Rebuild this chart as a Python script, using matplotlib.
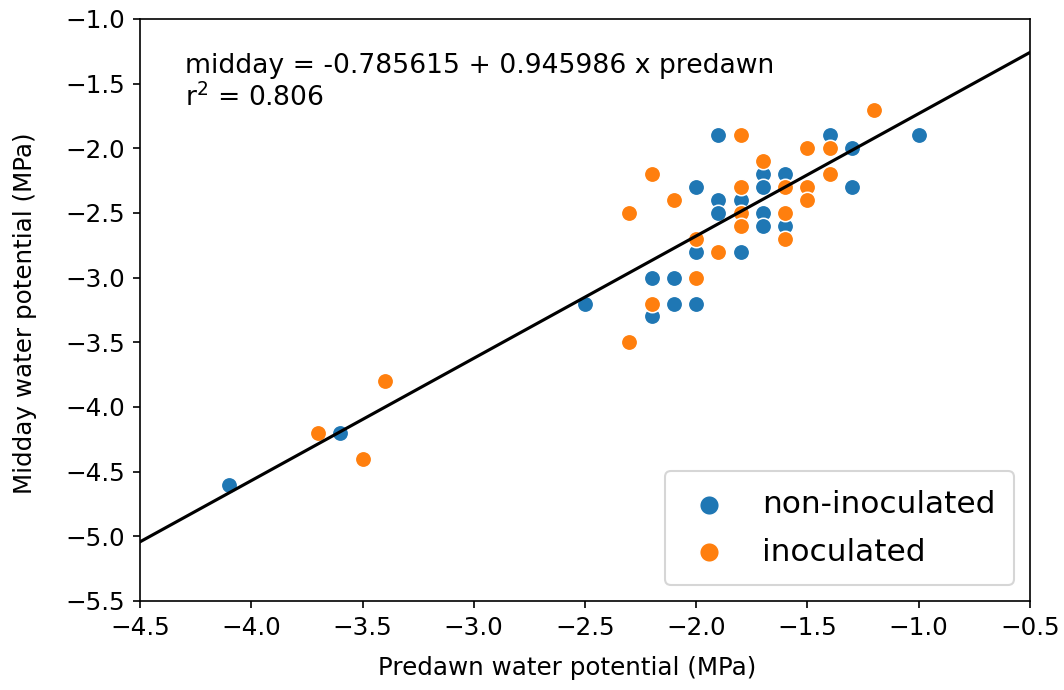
import matplotlib.pyplot as plt
import numpy as np

# non-inoculated plants
non_x = [-1.9, -1.0, -1.4, -1.3, -1.7, -1.6, -2.0, -1.7, -1.3, -1.9, -1.8, -1.9, -1.7,
         -1.7, -1.6, -2.0, -1.8, -2.2, -2.1, -2.5, -2.1, -2.0, -2.2, -3.6, -4.1]
non_y = [-1.9, -1.9, -1.9, -2.0, -2.2, -2.2, -2.3, -2.3, -2.3, -2.4, -2.4, -2.5, -2.5,
         -2.6, -2.6, -2.8, -2.8, -3.0, -3.0, -3.2, -3.2, -3.2, -3.3, -4.2, -4.6]

# inoculated plants
ino_x = [-1.8, -1.2, -1.5, -1.4, -1.7, -2.2, -1.4, -1.8, -1.6, -1.5, -2.1, -1.5, -2.3,
         -1.8, -1.6, -1.8, -2.0, -1.6, -1.9, -2.0, -2.2, -2.3, -3.4, -3.7, -3.5]
ino_y = [-1.9, -1.7, -2.0, -2.0, -2.1, -2.2, -2.2, -2.3, -2.3, -2.3, -2.4, -2.4, -2.5,
         -2.5, -2.5, -2.6, -2.7, -2.7, -2.8, -3.0, -3.2, -3.5, -3.8, -4.2, -4.4]

intercept = -0.785615
slope = 0.945986
r2 = 0.806

plt.rcParams['font.size'] = 11.8

fig, ax = plt.subplots(figsize=(10.64 / 1.5, 6.9 / 1.5), dpi=150)
fig.subplots_adjust(left=0.1316, right=0.968, top=0.9725, bottom=0.129)

ax.scatter(non_x, non_y, s=62, color='#1f77b4', edgecolor='white', linewidth=0.75,
           label='non-inoculated', zorder=2)
ax.scatter(ino_x, ino_y, s=62, color='#ff7f0e', edgecolor='white', linewidth=0.75,
           label='inoculated', zorder=2)

xs = np.array([-4.5, -0.5])
ax.plot(xs, intercept + slope * xs, color='black', linewidth=1.5, zorder=3)

ax.text(-4.3, -1.26, f'midday = {intercept} + {slope} x predawn\nr$^2$ = {r2}',
        va='top', ha='left', fontsize=12.8)

ax.set_xlim(-4.5, -0.5)
ax.set_ylim(-5.5, -1.0)
ax.set_xticks(np.arange(-4.5, -0.49, 0.5))
ax.set_yticks(np.arange(-5.5, -0.99, 0.5))
ax.set_xlabel('Predawn water potential (MPa)')
ax.set_ylabel('Midday water potential (MPa)')
ax.xaxis.set_label_coords(0.48, -0.095)
ax.yaxis.set_label_coords(-0.116, 0.495)

ax.legend(loc='lower right', fontsize=15, markerscale=1.2, handlelength=1.6,
          handletextpad=0.9, labelspacing=0.6, borderpad=0.6)

fig.savefig('out.png')
